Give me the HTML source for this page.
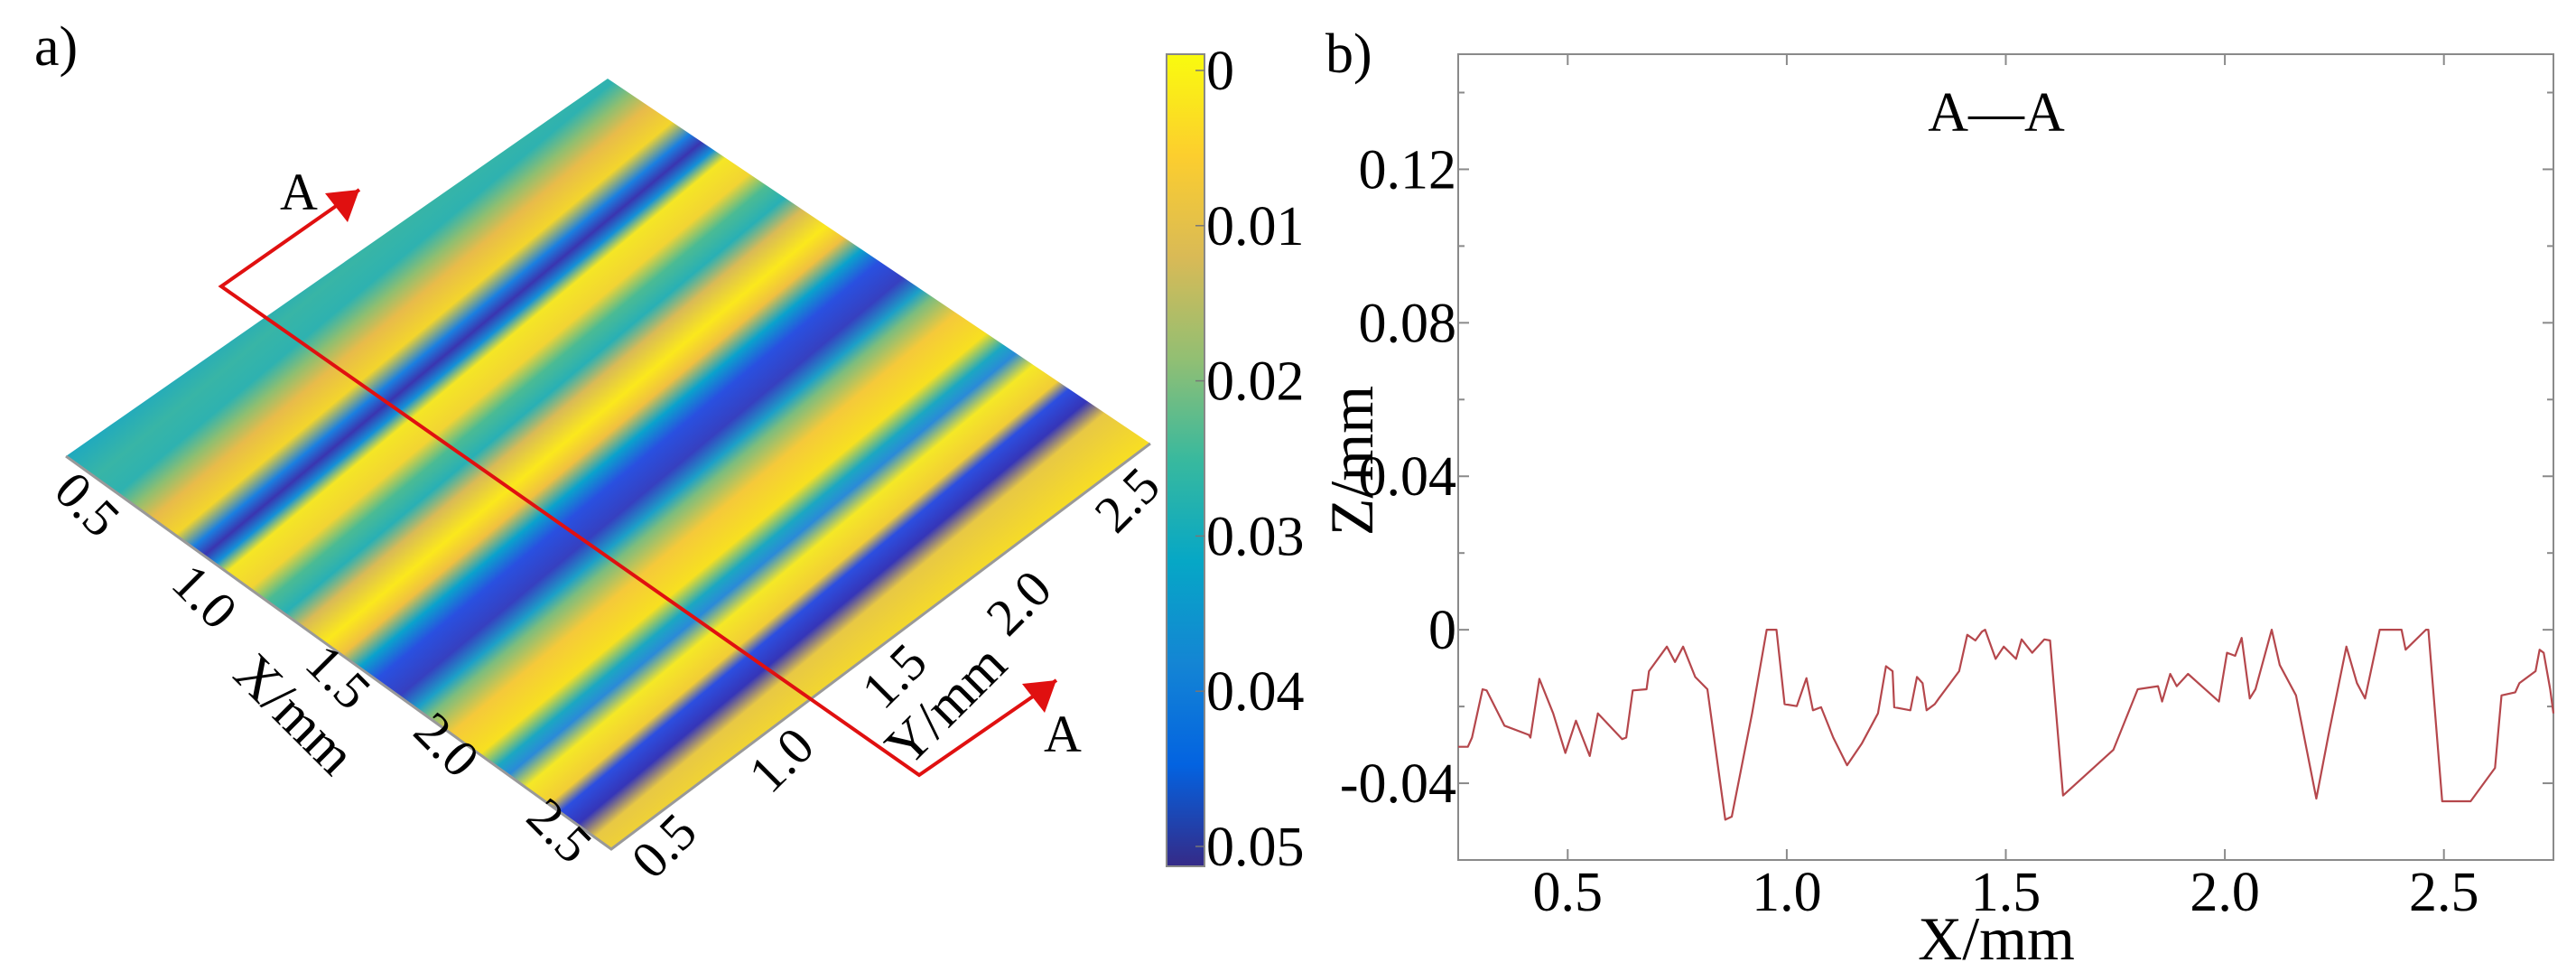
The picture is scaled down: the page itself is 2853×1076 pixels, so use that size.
<!DOCTYPE html>
<html><head><meta charset="utf-8"><style>
html,body{margin:0;padding:0;background:#fff;}
svg{display:block;font-family:"Liberation Serif",serif;}
text{font-family:"Liberation Serif",serif;}
</style></head><body>
<svg id="fig" width="2853" height="1076" viewBox="0 0 2853 1076" xmlns="http://www.w3.org/2000/svg" font-family="Liberation Serif, serif">
<defs>
<linearGradient id="surfGrad" gradientUnits="userSpaceOnUse" x1="73" y1="505" x2="558" y2="1089">
<stop offset="0" stop-color="#1fa9bf"/><stop offset="0.05" stop-color="#38b5a6"/><stop offset="0.09" stop-color="#2eb2b0"/>
<stop offset="0.12" stop-color="#8fbf70"/><stop offset="0.15" stop-color="#e8bb4a"/><stop offset="0.19" stop-color="#f3d52c"/>
<stop offset="0.22" stop-color="#1b7fe0"/><stop offset="0.24" stop-color="#3a35b0"/><stop offset="0.26" stop-color="#1490d8"/>
<stop offset="0.28" stop-color="#f5e625"/><stop offset="0.32" stop-color="#f2d433"/><stop offset="0.35" stop-color="#4bbb93"/>
<stop offset="0.38" stop-color="#28b0b5"/><stop offset="0.41" stop-color="#d9ba56"/><stop offset="0.45" stop-color="#fbe81c"/>
<stop offset="0.48" stop-color="#f0c040"/><stop offset="0.51" stop-color="#0aa2cc"/><stop offset="0.54" stop-color="#2950e0"/>
<stop offset="0.58" stop-color="#3640c0"/><stop offset="0.61" stop-color="#1ca0c8"/><stop offset="0.63" stop-color="#7bbd7e"/>
<stop offset="0.67" stop-color="#f5c93a"/><stop offset="0.72" stop-color="#f7e020"/><stop offset="0.75" stop-color="#1ba7c2"/>
<stop offset="0.77" stop-color="#2a8ad8"/><stop offset="0.80" stop-color="#f5e826"/><stop offset="0.84" stop-color="#f2cd36"/>
<stop offset="0.86" stop-color="#2c4ee0"/><stop offset="0.89" stop-color="#3535b8"/><stop offset="0.92" stop-color="#e8c844"/>
<stop offset="1" stop-color="#f9e020"/>
</linearGradient>
<linearGradient id="cbGrad" x1="0" y1="0" x2="0" y2="1">
<stop offset="0" stop-color="#f9fb0e"/><stop offset="0.125" stop-color="#fcce2e"/><stop offset="0.25" stop-color="#d9ba56"/>
<stop offset="0.375" stop-color="#92bf73"/><stop offset="0.5" stop-color="#38b99e"/><stop offset="0.625" stop-color="#06a7c6"/>
<stop offset="0.75" stop-color="#1485d4"/><stop offset="0.875" stop-color="#0363e1"/><stop offset="1" stop-color="#352a87"/>
</linearGradient>
</defs>

<!-- Panel a -->
<text x="38" y="72" font-size="62">a)</text>
<g>
<polygon points="673,87 1274,491 677,940 73,505" fill="url(#surfGrad)"/>
<polyline points="73,505 677,940 1274,491" fill="none" stroke="#999" stroke-width="3"/>
</g>
<g font-size="58">
<text transform="translate(83,572) rotate(45)" text-anchor="middle">0.5</text>
<text transform="translate(213,674) rotate(45)" text-anchor="middle">1.0</text>
<text transform="translate(361,763) rotate(45)" text-anchor="middle">1.5</text>
<text transform="translate(312,805) rotate(45)" text-anchor="middle" font-size="62">X/mm</text>
<text transform="translate(481,838) rotate(45)" text-anchor="middle">2.0</text>
<text transform="translate(606,933) rotate(45)" text-anchor="middle">2.5</text>
</g>
<g font-size="58">
<text transform="translate(749,950) rotate(-45)" text-anchor="middle">0.5</text>
<text transform="translate(879,855) rotate(-45)" text-anchor="middle">1.0</text>
<text transform="translate(1004,762) rotate(-45)" text-anchor="middle">1.5</text>
<text transform="translate(1062,795) rotate(-45)" text-anchor="middle" font-size="62">Y/mm</text>
<text transform="translate(1142,681) rotate(-45)" text-anchor="middle">2.0</text>
<text transform="translate(1262,567) rotate(-45)" text-anchor="middle">2.5</text>
</g>
<g>
<polyline points="398,210 245,317 1018,858 1170,753" fill="none" stroke="#e01010" stroke-width="4"/>
<polygon points="398,210 360,214 385,246" fill="#e01010"/>
<polygon points="1170,753 1132,757 1157,789" fill="#e01010"/>
<text x="310" y="232" font-size="58">A</text>
<text x="1156" y="832" font-size="58">A</text>
</g>
<g>
<rect x="1292" y="60" width="42" height="899" fill="url(#cbGrad)" stroke="#888" stroke-width="2"/>
<g id="cbTicks"></g>
</g>

<!-- Panel b -->
<text x="1468" y="80" font-size="62">b)</text>
<g id="chartB"></g>
</svg>
<script>
// Profile A-A data
const xValues = [0.25,0.272,0.2815,0.3056,0.3149,0.3556,0.4112,0.4149,0.4353,0.4668,0.4946,0.5187,0.5502,0.5688,0.6243,0.6336,0.6484,0.6799,0.6855,0.7263,0.7448,0.7633,0.7911,0.8189,0.8597,0.8745,0.9209,0.9542,0.9765,0.995,1.0228,1.045,1.0598,1.0784,1.1062,1.1377,1.171,1.2081,1.2266,1.2415,1.2452,1.2822,1.2971,1.31,1.3193,1.3378,1.3471,1.3934,1.412,1.4305,1.4453,1.4527,1.4768,1.4953,1.5232,1.5361,1.5602,1.588,1.601,1.6306,1.7455,1.8011,1.8475,1.8567,1.8753,1.8901,1.916,1.9865,2.005,2.0235,2.0383,2.0569,2.0698,2.1069,2.1254,2.1625,2.2088,2.2366,2.2774,2.3015,2.32,2.3534,2.4034,2.4127,2.459,2.4646,2.4961,2.561,2.6166,2.6314,2.6629,2.6722,2.7092,2.7185,2.7278,2.7426,2.75];
const zValues = [-0.0305,-0.0305,-0.0281,-0.0155,-0.0158,-0.025,-0.0274,-0.0281,-0.0128,-0.0218,-0.0321,-0.0237,-0.0329,-0.0218,-0.0285,-0.0281,-0.0158,-0.0155,-0.0108,-0.0044,-0.0084,-0.0044,-0.0123,-0.0155,-0.0495,-0.0487,-0.0218,0,0,-0.0194,-0.0199,-0.0126,-0.021,-0.0202,-0.0281,-0.0353,-0.0297,-0.0218,-0.0095,-0.0108,-0.0202,-0.021,-0.0123,-0.0139,-0.021,-0.0194,-0.0179,-0.0108,-0.0013,-0.0028,-0.0005,0,-0.0076,-0.0044,-0.0076,-0.0025,-0.006,-0.0025,-0.0028,-0.0432,-0.0313,-0.0155,-0.0147,-0.0187,-0.0115,-0.0147,-0.0115,-0.0187,-0.006,-0.0068,-0.0021,-0.0179,-0.0155,0,-0.0092,-0.0171,-0.044,-0.0274,-0.0044,-0.0139,-0.0179,0,0,-0.0052,0,0,-0.0447,-0.0447,-0.036,-0.0171,-0.0163,-0.0139,-0.0108,-0.0052,-0.006,-0.0155,-0.0218];
const yTickValues = [-0.04,0,0.04,0.08,0.12];
const yTickLabels = ["-0.04","0","0.04","0.08","0.12"];
const yMinorValues = [-0.02,0.02,0.06,0.10,0.14];
const xTickValues = [0.5,1.0,1.5,2.0,2.5];
const xTickLabels = ["0.5","1.0","1.5","2.0","2.5"];
const cbTickValues = [0,0.01,0.02,0.03,0.04,0.05];
const cbTickLabels = ["0","0.01","0.02","0.03","0.04","0.05"];

const NS = "http://www.w3.org/2000/svg";
const L = 1615, R = 2828, T = 60, B = 952;
const xMin = 0.25, xMax = 2.75, yMin = -0.06, yMax = 0.15;
const sx = v => L + (v - xMin) / (xMax - xMin) * (R - L);
const sy = v => B - (v - yMin) / (yMax - yMin) * (B - T);
function mk(tag, attrs, parent){ const e = document.createElementNS(NS, tag); for (const k in attrs) e.setAttribute(k, attrs[k]); parent.appendChild(e); return e; }
const g = document.getElementById('chartB');

const frame = mk('rect', {x:L, y:T, width:R-L, height:B-T, fill:'none', stroke:'#8a8a8a', 'stroke-width':2}, g);



yTickValues.forEach((v,i) => {
  const y = sy(v);
  const t1 = mk('line', {x1:L, x2:L+12, y1:y, y2:y, stroke:'#8a8a8a', 'stroke-width':2}, g);
  
  
  const t2 = mk('line', {x1:R-12, x2:R, y1:y, y2:y, stroke:'#8a8a8a', 'stroke-width':2}, g);
  
  
  const tx = mk('text', {x:L-2, y:y+21, 'font-size':62, 'text-anchor':'end'}, g);
  tx.textContent = yTickLabels[i];
  
  
});
yMinorValues.forEach(v => {
  const y = sy(v);
  const m1 = mk('line', {x1:L, x2:L+7, y1:y, y2:y, stroke:'#8a8a8a', 'stroke-width':2}, g);
  
  
  const m2 = mk('line', {x1:R-7, x2:R, y1:y, y2:y, stroke:'#8a8a8a', 'stroke-width':2}, g);
  
  
});
xTickValues.forEach((v,i) => {
  const x = sx(v);
  const t1 = mk('line', {x1:x, x2:x, y1:B, y2:B-12, stroke:'#8a8a8a', 'stroke-width':2}, g);
  
  
  const t2 = mk('line', {x1:x, x2:x, y1:T, y2:T+12, stroke:'#8a8a8a', 'stroke-width':2}, g);
  
  
  const tx = mk('text', {x:x, y:1008, 'font-size':62, 'text-anchor':'middle'}, g);
  tx.textContent = xTickLabels[i];
  
  
});
const xt = mk('text', {x:2211, y:1062, 'font-size':68, 'text-anchor':'middle'}, g);
xt.textContent = 'X/mm';


const yt = mk('text', {x:0, y:0, 'font-size':68, 'text-anchor':'middle', transform:'translate(1520,510) rotate(-90)'}, g);
yt.textContent = 'Z/mm';


const tt = mk('text', {x:2211, y:145, 'font-size':62, 'text-anchor':'middle'}, g);
tt.textContent = 'A—A';



const pts = xValues.map((x,i) => sx(x).toFixed(1) + ',' + sy(zValues[i]).toFixed(1)).join(' ');
const line = mk('polyline', {points:pts, fill:'none', stroke:'#b5474c', 'stroke-width':2.2, 'stroke-linejoin':'round'}, g);



// colorbar ticks
const cb = document.getElementById('cbTicks');
const cbTop = 78, cbBot = 937;
cbTickValues.forEach((v,i) => {
  const y = cbTop + v / 0.05 * (cbBot - cbTop);
  const tx = mk('text', {x:1336, y:y+21, 'font-size':62}, cb);
  tx.textContent = cbTickLabels[i];
  
  
  const tk = mk('line', {x1:1324, x2:1334, y1:y, y2:y, stroke:'#777', 'stroke-width':1.5}, cb);
  
  
});
</script>
</body></html>
